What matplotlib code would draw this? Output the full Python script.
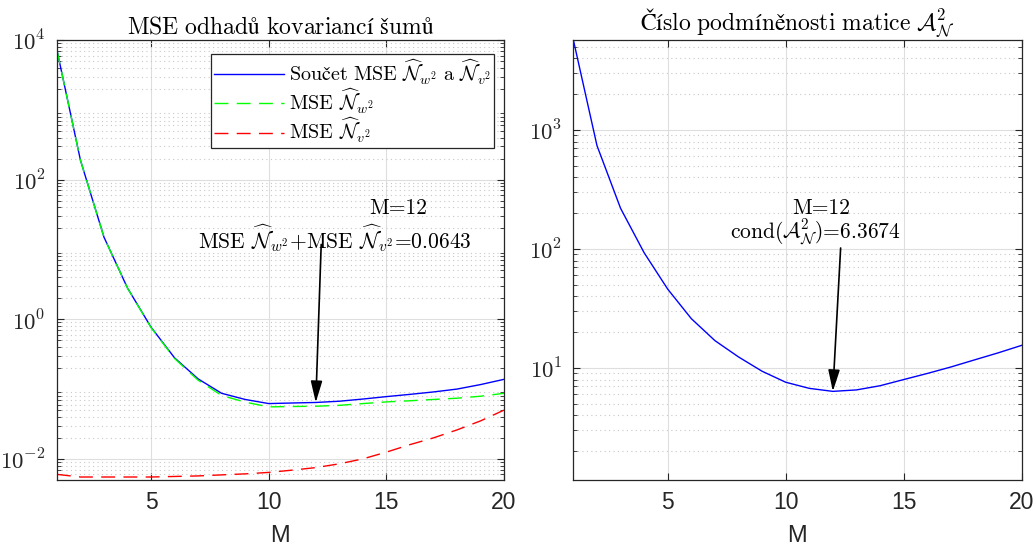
import math
import matplotlib
matplotlib.use("Agg")
import matplotlib.pyplot as plt
from matplotlib.ticker import FixedLocator, LogLocator, FuncFormatter, NullFormatter

plt.rcParams['mathtext.fontset'] = 'cm'

M = list(range(1, 21))
mse_sum = [7200, 190, 15, 2.8, 0.77, 0.28, 0.14, 0.087, 0.071, 0.062,
           0.0632, 0.0643, 0.067, 0.072, 0.078, 0.084, 0.091, 0.10, 0.116, 0.138]
mse_w = [7200, 190, 15, 2.79, 0.76, 0.274, 0.134, 0.081, 0.065, 0.0556,
         0.0563, 0.0568, 0.0585, 0.062, 0.0655, 0.068, 0.071, 0.074, 0.079, 0.087]
mse_v = [0.006, 0.0055, 0.0055, 0.0055, 0.0055, 0.0056, 0.0057, 0.0059, 0.0061, 0.0064,
         0.0069, 0.0075, 0.0085, 0.0100, 0.0125, 0.016, 0.02, 0.026, 0.035, 0.05]
cond_A = [5700, 740, 220, 93, 46, 26, 17, 12.4, 9.4, 7.6,
          6.75, 6.3674, 6.55, 7.1, 8.0, 9.0, 10.2, 11.7, 13.4, 15.5]

serif = ['cmr10', 'DejaVu Serif']
sans = ['Liberation Sans', 'DejaVu Sans']
dark = '#262626'


def fmt(v, pos):
    e = int(round(math.log10(v)))
    return r'$\mathsf{10^{%d}}$' % e


def style(ax, yt):
    ax.set_yscale('log')
    ax.set_xlim(1, 20)
    ax.set_xticks([5, 10, 15, 20])
    ax.yaxis.set_major_locator(FixedLocator(yt))
    ax.yaxis.set_major_formatter(FuncFormatter(fmt))
    ax.yaxis.set_minor_locator(LogLocator(base=10, subs=range(2, 10)))
    ax.yaxis.set_minor_formatter(NullFormatter())
    ax.grid(True, which='major', color='#dedede', lw=0.8)
    ax.grid(True, which='minor', axis='y', color='#c8c8c8', lw=0.8, ls=(0, (1, 3)))
    ax.tick_params(which='both', direction='in', top=True, right=True, colors=dark,
                   labelsize=16.5, length=5, pad=8)
    ax.tick_params(which='minor', length=3)
    for lab in ax.get_xticklabels() + ax.get_yticklabels():
        lab.set_family(sans)
    for s in ax.spines.values():
        s.set_color(dark)
        s.set_linewidth(0.9)
    ax.set_xlabel('M', fontsize=17, family=sans, color=dark, labelpad=8)
    ax.set_axisbelow(True)


fig = plt.figure(figsize=(10.35, 5.49), dpi=100)
ax1 = fig.add_axes([0.055, 0.126, 0.432, 0.801])
ax2 = fig.add_axes([0.554, 0.126, 0.433, 0.801])

ax1.plot(M, mse_sum, color='#0000ff', lw=1.0,
         label=r'$\mathrm{Součet\ MSE}\ \widehat{\mathcal{N}}_{w^2}\ \mathrm{a}\ \widehat{\mathcal{N}}_{v^2}$')
ax1.plot(M, mse_w, color='#00ff00', lw=1.0, ls=(0, (10, 6)),
         label=r'MSE $\widehat{\mathcal{N}}_{w^2}$')
ax1.plot(M, mse_v, color='#ff0000', lw=1.0, ls=(0, (10, 6)),
         label=r'MSE $\widehat{\mathcal{N}}_{v^2}$')
ax1.set_ylim(10 ** -2.3, 1e4)
style(ax1, [1e-2, 1, 1e2, 1e4])
ax1.set_title(r'$\mathrm{MSE\ odhadů\ kovariancí\ šumů}$', fontsize=17, pad=5)
leg = ax1.legend(loc='upper right', prop={'family': serif, 'size': 14.5}, fancybox=False,
                 edgecolor=dark, framealpha=1, handlelength=3.5, borderpad=0.15,
                 labelspacing=0.0, handletextpad=0.25, borderaxespad=0,
                 bbox_to_anchor=(0.978, 0.968))
leg.get_frame().set_linewidth(0.9)

ax1.annotate('', xy=(12, mse_sum[11]), xytext=(12.23, 11.8),
             arrowprops=dict(arrowstyle='-|>,head_width=0.35,head_length=1.3',
                             color='k', lw=1.2, shrinkA=0, shrinkB=0))
ax1.text(15.5, 39, 'M=12', family=serif, fontsize=15.5, ha='center', va='center')
ax1.text(12.8, 14.5, r'MSE $\widehat{\mathcal{N}}_{w^2}$+MSE $\widehat{\mathcal{N}}_{v^2}$=0.0643',
         family=serif, fontsize=15.5, ha='center', va='center')

ax2.plot(M, cond_A, color='#0000ff', lw=1.0)
ax2.set_ylim(1.15, 5700)
style(ax2, [1e1, 1e2, 1e3])
ax2.set_title(r'$\mathrm{Číslo\ podmíněnosti\ matice}\ \mathcal{A}_{\mathcal{N}}^2$',
              fontsize=17, pad=5)
ax2.annotate('', xy=(12, cond_A[11]), xytext=(12.33, 102),
             arrowprops=dict(arrowstyle='-|>,head_width=0.35,head_length=1.3',
                             color='k', lw=1.2, shrinkA=0, shrinkB=0))
ax2.text(11.5, 221, 'M=12', family=serif, fontsize=15.5, ha='center', va='center')
ax2.text(11.27, 139, r'cond($\mathcal{A}_{\mathcal{N}}^2$)=6.3674', family=serif,
         fontsize=15.5, ha='center', va='center')

fig.savefig('out.png', dpi=100)
